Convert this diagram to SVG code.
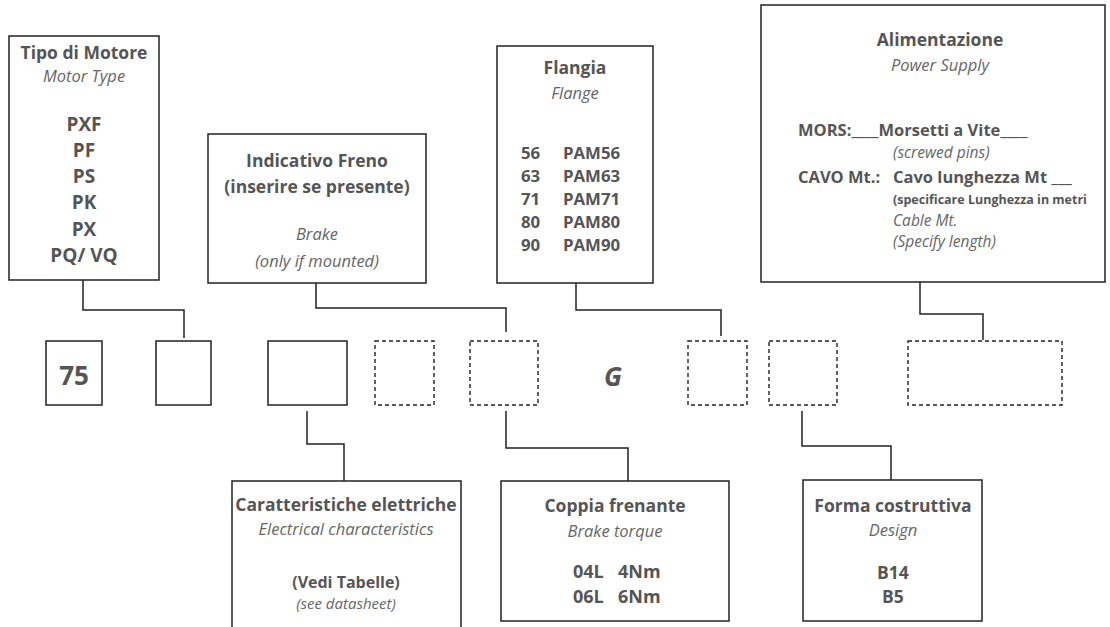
<svg xmlns="http://www.w3.org/2000/svg" width="1110" height="627" viewBox="0 0 1110 627">
<style>
.box{fill:#fff;stroke:#222;stroke-width:1.5}
.dbox{fill:none;stroke:#222;stroke-width:1.4;stroke-dasharray:4 3}
.con{fill:none;stroke:#222;stroke-width:1.5}
text{font-family:"Open Sans","Noto Sans","DejaVu Sans",sans-serif}
.t{font-weight:bold;font-size:17.5px;fill:#555;text-anchor:middle}
.i{font-style:italic;font-size:16.5px;fill:#666;text-anchor:middle}
.c{font-weight:bold;font-size:19px;fill:#555;text-anchor:middle}
.cl{font-weight:bold;font-size:16.8px;fill:#555}
.a{font-weight:bold;font-size:16.5px;fill:#555}
.ai{font-style:italic;font-size:15.5px;fill:#666}
.s{font-weight:bold;font-size:12.5px;fill:#555}
.big{font-weight:bold;font-size:26px;fill:#555;text-anchor:middle}
</style>
<rect width="1110" height="627" fill="#fff"/>

<g id="connectors">
<path class="con" d="M83,280 V310 H184 V338"/>
<path class="con" d="M316,283 V308 H506 V332"/>
<path class="con" d="M576,283 V310 H721 V336"/>
<path class="con" d="M920,282 V314 H983 V340"/>
<path class="con" d="M307,411 V444 H344 V481"/>
<path class="con" d="M506,411 V448 H628 V481"/>
<path class="con" d="M802,411 V446 H891 V480"/>
</g>

<g id="tipo-motore">
<rect class="box" x="9" y="36" width="150" height="244"/>
<text class="t" x="84" y="59">Tipo di Motore</text>
<text class="i" x="84" y="82">Motor Type</text>
<text class="c" x="84" y="131">PXF</text>
<text class="c" x="84" y="157">PF</text>
<text class="c" x="84" y="183">PS</text>
<text class="c" x="84" y="209">PK</text>
<text class="c" x="84" y="236">PX</text>
<text class="c" x="84" y="262">PQ/ VQ</text>
</g>

<g id="indicativo-freno">
<rect class="box" x="208" y="134" width="218" height="149"/>
<text class="t" x="317" y="167">Indicativo Freno</text>
<text class="t" x="317" y="193">(inserire se presente)</text>
<text class="i" x="317" y="240">Brake</text>
<text class="i" x="317" y="267">(only if mounted)</text>
</g>

<g id="flangia">
<rect class="box" x="497" y="46" width="156" height="237"/>
<text class="t" x="575" y="74">Flangia</text>
<text class="i" x="575" y="99">Flange</text>
<text class="cl" x="521" y="159">56</text><text class="cl" x="563" y="159">PAM56</text>
<text class="cl" x="521" y="182">63</text><text class="cl" x="563" y="182">PAM63</text>
<text class="cl" x="521" y="205">71</text><text class="cl" x="563" y="205">PAM71</text>
<text class="cl" x="521" y="228">80</text><text class="cl" x="563" y="228">PAM80</text>
<text class="cl" x="521" y="251">90</text><text class="cl" x="563" y="251">PAM90</text>
</g>

<g id="alimentazione">
<rect class="box" x="761" y="5" width="344" height="277"/>
<text class="t" x="940" y="46">Alimentazione</text>
<text class="i" x="940" y="71">Power Supply</text>
<text class="a" x="798" y="136">MORS:____Morsetti a Vite____</text>
<text class="ai" x="893" y="158">(screwed pins)</text>
<text class="a" x="798" y="183">CAVO Mt.:</text>
<text class="a" x="893" y="183">Cavo lunghezza Mt ___</text>
<text class="s" x="893" y="204">(specificare Lunghezza in metri</text>
<text class="ai" x="893" y="226">Cable Mt.</text>
<text class="ai" x="893" y="247">(Specify length)</text>
</g>

<g id="code-75">
<rect class="box" x="46" y="341" width="56" height="64"/>
<text class="big" x="74" y="385">75</text>
</g>
<g id="code-box2"><rect class="box" x="156" y="341" width="55" height="64"/></g>
<g id="code-box3"><rect class="box" x="268" y="341" width="79" height="64"/></g>
<g id="code-box4"><rect class="dbox" x="375" y="341" width="59" height="64"/></g>
<g id="code-box5"><rect class="dbox" x="470" y="341" width="68" height="64"/></g>
<g id="code-G"><text class="big" x="613" y="386" font-style="italic">G</text></g>
<g id="code-box6"><rect class="dbox" x="688" y="341" width="59" height="64"/></g>
<g id="code-box7"><rect class="dbox" x="769" y="341" width="68" height="64"/></g>
<g id="code-box8"><rect class="dbox" x="908" y="341" width="154" height="64"/></g>

<g id="caratteristiche">
<path class="box" d="M232,630 V481 H461 V630"/>
<text class="t" x="346" y="511">Caratteristiche elettriche</text>
<text class="i" x="346" y="535">Electrical characteristics</text>
<text class="t" x="346" y="588" style="font-size:16px">(Vedi Tabelle)</text>
<text class="i" x="346" y="609" style="font-size:15px">(see datasheet)</text>
</g>

<g id="coppia">
<rect class="box" x="501" y="481" width="228" height="140"/>
<text class="t" x="615" y="512">Coppia frenante</text>
<text class="i" x="615" y="537">Brake torque</text>
<text class="cl" x="573" y="578" style="font-size:18px">04L</text><text class="cl" x="618" y="578" style="font-size:18px">4Nm</text>
<text class="cl" x="573" y="603" style="font-size:18px">06L</text><text class="cl" x="618" y="603" style="font-size:18px">6Nm</text>
</g>

<g id="forma">
<rect class="box" x="803" y="480" width="179" height="141"/>
<text class="t" x="893" y="512">Forma costruttiva</text>
<text class="i" x="893" y="536">Design</text>
<text class="c" x="893" y="579" style="font-size:17.5px">B14</text>
<text class="c" x="893" y="603" style="font-size:17.5px">B5</text>
</g>
</svg>
